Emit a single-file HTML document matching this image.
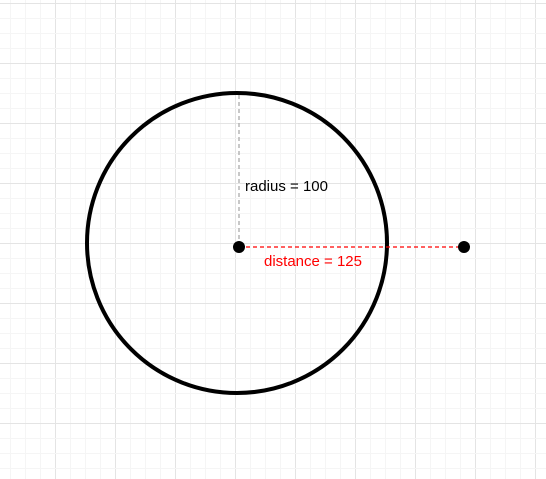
<!DOCTYPE html>
<html><head><style>html,body{margin:0;padding:0;background:#fff}svg{display:block}</style></head>
<body>
<svg width="546" height="479" xmlns="http://www.w3.org/2000/svg">
<g id="grid"></g>
<circle cx="237" cy="243" r="150" fill="none" stroke="#000" stroke-width="4"/>
<line x1="239" y1="95" x2="239" y2="247" stroke="#aaa" stroke-width="1.3" stroke-dasharray="4,3"/>
<line x1="239" y1="247" x2="464" y2="247" stroke="#f00" stroke-width="1.3" stroke-dasharray="4,3"/>
<circle cx="239" cy="247" r="6" fill="#000"/>
<circle cx="464" cy="247" r="6" fill="#000"/>
<text x="245" y="191" font-family="Liberation Sans, sans-serif" font-size="15" fill="#000">radius = 100</text>
<text x="264" y="266" font-family="Liberation Sans, sans-serif" font-size="15" fill="#f00">distance = 125</text>
</svg>
<script>
const g=document.getElementById('grid');const ns='http://www.w3.org/2000/svg';
for(let x=10;x<546;x+=15){const l=document.createElementNS(ns,'line');const major=(x-55)%60===0;
l.setAttribute('x1',x+.5);l.setAttribute('x2',x+.5);l.setAttribute('y1',0);l.setAttribute('y2',479);
l.setAttribute('stroke',major?'#e4e4e4':'#f5f5f5');


g.appendChild(l);}
for(let y=3;y<479;y+=15){const l=document.createElementNS(ns,'line');const major=(y-3)%60===0;
l.setAttribute('y1',y+.5);l.setAttribute('y2',y+.5);l.setAttribute('x1',0);l.setAttribute('x2',546);
l.setAttribute('stroke',major?'#e4e4e4':'#f5f5f5');


g.appendChild(l);}
</script>
</body></html>
